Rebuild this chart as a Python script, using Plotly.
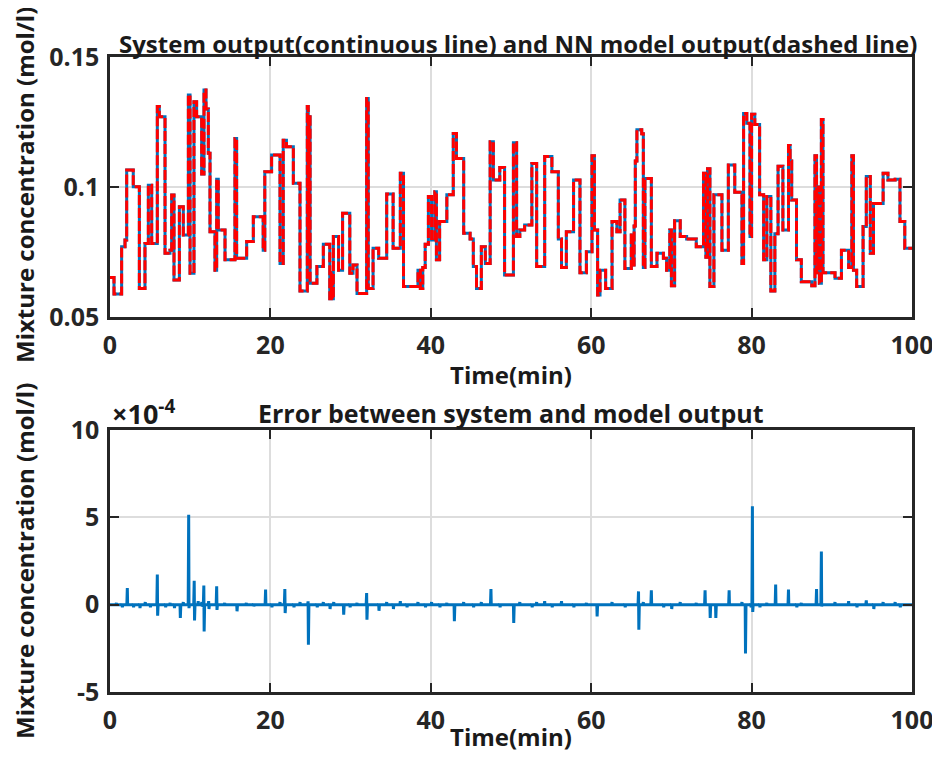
import plotly.graph_objects as go

# ---- Top plot: step times (min) and mixture concentration (mol/l) ----
step_t = [0, 0.5, 1.45, 1.87, 2.08, 2.9, 3.66, 4.36, 4.78, 5.2, 5.9, 6.15, 6.86, 7.48, 7.69, 7.98,
          8.65, 9.14, 9.77, 9.98, 10.47, 10.8, 11.43, 11.72, 11.97, 12.26, 12.47, 13.09, 13.3, 13.5,
          14.34, 15.58, 15.79, 17.04, 17.87, 19.1, 19.3, 20.15, 21.2, 21.6, 22.0, 22.86, 23.69,
          24.6, 24.72, 24.8, 24.95, 25.8, 26.6, 27.4, 27.6, 27.75, 27.85, 28.5, 29.0, 29.9, 30.3,
          30.8, 32.0, 32.2, 32.8, 33.5, 34.5, 35.3, 36.2, 36.6, 38.4, 38.7, 39.0, 39.3, 39.7, 40.1,
          40.5, 40.7, 41.1, 42.0, 42.8, 43.2, 44.1, 44.9, 45.3, 45.7, 46.3, 46.8, 47.4, 47.8, 48.6,
          49.2, 50.3, 50.7, 51.1, 51.7, 52.6, 53.2, 54.2, 55.1, 55.9, 56.3, 56.9, 57.8, 58.6, 59.4,
          60.1, 60.4, 60.8, 61.1, 61.8, 62.6, 63.2, 63.6, 64.2, 65.0, 65.2, 65.35, 65.5, 65.7, 66.3,
          66.5, 66.7, 67.5, 68.2, 69.0, 69.4, 69.8, 70.0, 70.4, 71.1, 71.9, 73.1, 74.0, 74.3, 74.5,
          74.8, 75.3, 76.3, 77.1, 77.9, 78.8, 79.0, 79.4, 79.8, 80.0, 80.4, 81.0, 81.5, 81.9, 82.4,
          82.9, 83.3, 83.9, 84.6, 84.8, 85.0, 85.6, 86.2, 87.5, 87.9, 88.1, 88.3, 88.45, 88.7, 88.9,
          90.4, 91.2, 92.1, 92.5, 92.7, 93.1, 93.9, 94.3, 94.8, 95.2, 96.4, 97.0, 97.9, 98.5, 99.1,
          100]
conc = [0.0652, 0.0588, 0.0770, 0.0796, 0.1065, 0.1001, 0.0610, 0.0783, 0.1007, 0.0783, 0.1310,
        0.1270, 0.0745, 0.0757, 0.0969, 0.0642, 0.0924, 0.0815, 0.1354, 0.0668, 0.1328, 0.1270,
        0.1050, 0.1373, 0.1300, 0.1130, 0.0828, 0.0680, 0.1030, 0.0835, 0.0720, 0.1187, 0.0726,
        0.0790, 0.0886, 0.0757, 0.1059, 0.1123, 0.0706, 0.1180, 0.1155, 0.1014, 0.0600,
        0.1310, 0.0750, 0.1270, 0.0630, 0.0694, 0.0780, 0.0570, 0.0670, 0.0570, 0.0810, 0.0680,
        0.0899, 0.0668, 0.0700, 0.0590, 0.1340, 0.0610, 0.0764, 0.0726, 0.0973, 0.0764, 0.1053,
        0.0617, 0.0680, 0.0610, 0.0690, 0.0780, 0.0963, 0.0796, 0.0982, 0.0720, 0.0867, 0.0970,
        0.1206, 0.1110, 0.0822, 0.0800, 0.0694, 0.0610, 0.0770, 0.0706, 0.1174, 0.1027, 0.1075,
        0.0662, 0.1170, 0.0810, 0.0835, 0.0854, 0.1090, 0.0694, 0.1117, 0.1059, 0.0800, 0.0690,
        0.0828, 0.1027, 0.0670, 0.0751, 0.1120, 0.0835, 0.0585, 0.0680, 0.0610, 0.0867, 0.0828,
        0.0950, 0.0687, 0.0815, 0.0700, 0.0850, 0.1100, 0.1220, 0.1205, 0.0690, 0.1033, 0.0694,
        0.0745, 0.0726, 0.0680, 0.0835, 0.0620, 0.0870, 0.0810, 0.0800, 0.0770, 0.1053, 0.0730,
        0.1070, 0.0617, 0.0970, 0.0757, 0.1085, 0.0980, 0.0706, 0.1283, 0.1245, 0.0810, 0.1280,
        0.1240, 0.0970, 0.0720, 0.0963, 0.0600, 0.0820, 0.1080, 0.0835, 0.1160, 0.1100, 0.0950,
        0.0720, 0.0636, 0.0620, 0.1120, 0.0670, 0.1000, 0.0630, 0.1260, 0.0670, 0.0649, 0.0757,
        0.0690, 0.1120, 0.0680, 0.0617, 0.0848, 0.1040, 0.0745, 0.0937, 0.1053, 0.1027, 0.1030,
        0.0867, 0.0764, 0.0764]

# ---- Bottom plot: error events (time in min, peak up / peak down in units of 1e-4 mol/l) ----
err_time = [0.8, 1.5, 2.16, 2.9, 3.7, 4.4, 5.0, 5.9, 6.9, 7.5, 8.0, 8.73, 9.14, 9.81, 10.5, 11.0,
            11.45, 11.7, 12.3, 13.3, 14.3, 15.8, 17.0, 17.9, 19.4, 20.15, 21.2, 21.8, 22.9, 23.7,
            24.7, 25.8, 26.6, 27.4, 27.9, 29.1, 29.9, 30.8, 32.0, 33.5, 34.5, 35.3, 36.2, 37.0,
            38.4, 39.3, 40.1, 41.1, 42.0, 42.9, 44.1, 45.3, 46.3, 47.5, 48.6, 50.3, 51.1, 52.6,
            53.2, 54.2, 55.1, 56.3, 57.8, 59.4, 60.7, 62.6, 64.2, 65.9, 66.5, 67.5, 69.0, 70.0,
            71.1, 73.1, 74.2, 74.8, 75.5, 77.2, 78.8, 79.2, 79.9, 80.1, 81.0, 81.9, 83.0, 84.6,
            85.6, 86.2, 88.1, 88.7, 90.4, 92.1, 93.1, 94.3, 95.2, 96.4, 97.9, 98.5]
err_up = [0.1, 0.05, 0.95, 0.05, 0.05, 0.15, 0.05, 1.72, 0.05, 0.1, 0.05, 0.0, 0.15, 5.15, 1.37, 0.2,
          0.15, 1.09, 0.2, 1.05, 0.1, 0.0, 0.1, 0.05, 0.86, 0.05, 0.15, 0.9, 0.05, 0.15,
          0.19, 0.05, 0.15, 0.05, 0.15, 0.0, 0.05, 0.1, 0.67, 0.05, 0.15, 0.05, 0.2, 0.05,
          0.15, 0.05, 0.15, 0.05, 0.1, 0.0, 0.15, 0.05, 0.15, 0.9, 0.05, 0.0, 0.15, 0.05,
          0.15, 0.2, 0.05, 0.2, 0.05, 0.1, 0.0, 0.15, 0.05, 0.76, 0.15, 0.82, 0.05, 0.05,
          0.15, 0.1, 0.82, 0.0, 0.0, 0.82, 0.15, 0.0, 0.05, 5.63, 0.05, 0.1, 1.15, 0.86,
          0.05, 0.1, 0.9, 3.05, 0.15, 0.2, 0.05, 0.25, 0.05, 0.15, 0.15, 0.05]
err_down = [-0.05, -0.15, 0.0, -0.15, -0.2, -0.05, -0.15, -0.63, -0.15, -0.05, -0.2, -0.76, -0.05,
            -0.2, -0.9, -0.05, -0.1, -1.53, -0.25, -0.3, -0.05, -0.38, -0.05, -0.1, 0.0, -0.15,
            -0.05, -0.48, -0.15, -0.05, -2.29, -0.15, -0.05, -0.25, -0.05, -0.57, -0.15, -0.05,
            -0.86, -0.35, -0.05, -0.25, -0.05, -0.15, -0.05, -0.15, -0.05, -0.15, -0.05, -0.95,
            -0.05, -0.15, -0.05, 0.0, -0.15, -1.05, -0.05, -0.15, -0.05, -0.05, -0.15, -0.05,
            -0.15, -0.05, -0.67, -0.05, -0.15, -1.43, -0.05, 0.0, -0.15, -0.25, -0.05, -0.05,
            0.0, -0.76, -0.76, 0.0, -0.05, -2.8, -0.15, -0.42, -0.15, -0.05, 0.0, -0.05, -0.15,
            -0.05, -0.05, -0.1, -0.05, -0.05, -0.15, -0.05, -0.25, -0.05, -0.05, -0.15]

x_ticks = [0, 20, 40, 60, 80, 100]
y1_ticks = [0.05, 0.1, 0.15]
y1_labels = ["0.05", "0.1", "0.15"]
y2_ticks = [-5, 0, 5, 10]
y2_labels = ["-5", "0", "5", "10"]

# build the error polyline from the events (baseline zero between events)
ex, ey = [0.0], [0.0]
for t, u, d in zip(err_time, err_up, err_down):
    ex += [t - 0.06, t, t + 0.04, t + 0.1]
    ey += [0.0, u, d, 0.0]
ex.append(100.0)
ey.append(0.0)

BLUE = "#0072BD"
INK = "#262626"
FONT = "Open Sans"
OFF = 8                               # page body margin
W, H = 940 - 2 * OFF, 762 - 2 * OFF
L, R, T, B = 110 - OFF, 912 - OFF, 57 - OFF, 692 - OFF   # plot-area edges (figure pixels)

fig = go.Figure()
fig.add_trace(go.Scatter(x=step_t, y=conc, mode="lines", line=dict(color=BLUE, width=3, shape="hv"),
                         xaxis="x", yaxis="y", showlegend=False))
fig.add_trace(go.Scatter(x=step_t, y=conc, mode="lines",
                         line=dict(color="#ff0000", width=3, shape="hv", dash="10px,3px"),
                         xaxis="x", yaxis="y", showlegend=False))
fig.add_trace(go.Scatter(x=ex, y=ey, mode="lines", line=dict(color=BLUE, width=3),
                         xaxis="x2", yaxis="y2", showlegend=False))

tickfont = dict(family=FONT, size=25, color=INK, weight="bold")
common_ax = dict(showline=True, linecolor=INK, linewidth=2.5, mirror="ticks", ticks="inside",
                 ticklen=9, tickwidth=2, tickcolor=INK, showgrid=True, gridcolor="#dddddd",
                 gridwidth=1.5, zeroline=False, tickfont=tickfont, automargin=False,
                 ticklabeloverflow="allow")

def py(v):  # reference pixel y -> paper fraction
    return (B - (v - OFF)) / (B - T)

def px(v):  # reference pixel x -> paper fraction
    return ((v - OFF) - L) / (R - L)

fig.update_layout(
    width=W, height=H, margin=dict(l=L, r=W - R, t=T, b=H - B, autoexpand=False),
    paper_bgcolor="white", plot_bgcolor="white",
    xaxis=dict(domain=[0, 1], range=[0, 100], tickvals=x_ticks, anchor="y",
               ticklabelstandoff=4, **common_ax),
    yaxis=dict(domain=[py(317), 1], range=[0.05, 0.15], tickvals=y1_ticks,
               ticktext=y1_labels, anchor="x", ticklabelstandoff=3, **common_ax),
    xaxis2=dict(domain=[0, 1], range=[0, 100], tickvals=x_ticks, anchor="y2",
                ticklabelstandoff=4, **common_ax),
    yaxis2=dict(domain=[0, py(430)], range=[-5, 10], tickvals=y2_ticks,
                ticktext=y2_labels, anchor="x2", ticklabelstandoff=3, **common_ax),
)

def txt(x, y, s, size=24, angle=0, xanchor="center"):
    fig.add_annotation(x=px(x), y=py(y), xref="paper", yref="paper", text=s, showarrow=False,
                       textangle=angle, xanchor=xanchor, yanchor="middle",
                       font=dict(family=FONT, size=size, color="#1a1a1a", weight="bold"))

txt(518, 43, "System output(continuous line) and NN model output(dashed line)", size=24)
txt(511, 413, "Error between system and model output", size=25)
txt(511, 374, "Time(min)", size=24)
txt(511, 736, "Time(min)", size=24)
txt(24, 185, "Mixture concentration (mol/l)", size=24, angle=-90)
txt(24, 561, "Mixture concentration (mol/l)", size=24, angle=-90)
txt(110, 413, "×10<sup>-4</sup>", size=27, xanchor="left")

fig.write_html("out.html")
